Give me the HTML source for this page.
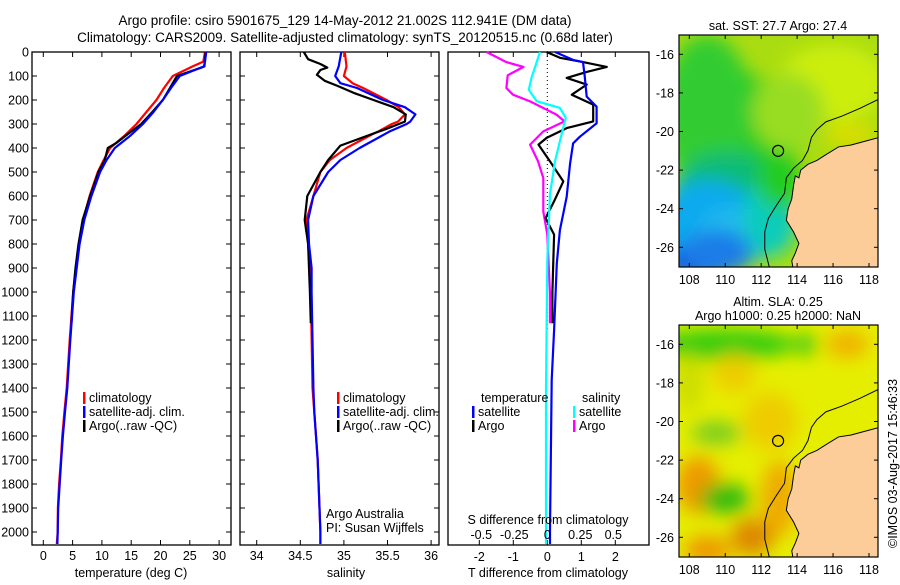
<!DOCTYPE html>
<html><head><meta charset="utf-8">
<style>
html,body{margin:0;padding:0;background:#fff;}
body{width:900px;height:580px;overflow:hidden;font-family:"Liberation Sans",sans-serif;}
svg text{font-family:"Liberation Sans",sans-serif;font-size:12.5px;fill:#000;}
</style></head>
<body>
<svg id="fig" width="900" height="580" xmlns="http://www.w3.org/2000/svg">
<defs>
<filter id="blur6" x="-50%" y="-50%" width="200%" height="200%"><feGaussianBlur stdDeviation="9"/></filter>
<clipPath id="clipTop"><rect x="679" y="35" width="199" height="232"/></clipPath>
<clipPath id="clipBot"><rect x="679" y="325" width="199" height="232"/></clipPath>
</defs>
<text x="345" y="25" text-anchor="middle" style="font-size:13.5px">Argo profile: csiro 5901675_129 14-May-2012 21.002S 112.941E (DM data)</text>
<text x="345" y="42" text-anchor="middle" style="font-size:13.5px">Climatology: CARS2009. Satellite-adjusted climatology: synTS_20120515.nc (0.68d later)</text>
<g id="p1"></g>
<g id="p2"></g>
<g id="p3"></g>
<g id="m1"></g>
<g id="m2"></g>
<text transform="translate(897,548) rotate(-90)" style="font-size:12.5px">©IMOS 03-Aug-2017 15:46:33</text>
</svg>
<script>
// ---- data ----
const depthTclim=[0,40,60,100,150,200,250,300,350,400,450,500,600,700,800,900,1000,1200,1400,1500,1600,1700,1800,1900,2000,2050];
const tempClim=[27.6,27.3,25.5,22.1,20.6,19.3,17.6,15.9,13.8,11.4,10.3,9.3,7.9,6.8,6.1,5.6,5.1,4.5,4.0,3.6,3.25,3.0,2.7,2.5,2.45,2.3];
const tempSat=[27.8,27.6,27.4,23.3,21.8,20.4,18.8,17.0,14.8,12.2,10.8,9.7,8.2,7.0,6.2,5.7,5.2,4.6,4.1,3.7,3.35,3.05,2.8,2.55,2.45,2.4];
const depthArgo=[0,30,60,65,100,150,200,250,300,350,380,400,450,500,600,700,800,900,1000,1130];
const tempArgo=[27.7,27.6,27.5,27.0,22.8,21.6,20.4,18.6,16.7,14.0,12.4,11.0,10.5,9.4,8.0,6.7,6.0,5.5,5.1,4.8];

const depthS=[0,60,100,130,150,200,230,260,290,300,330,340,400,450,500,600,700,800,900,1000,1400,1500,1600,1700,1800,1900,2000,2050];
const salClim=[35.01,35.03,35.0,35.1,35.22,35.49,35.63,35.70,35.62,35.55,35.4,35.34,35.03,34.84,34.73,34.65,34.57,34.59,34.61,34.62,34.64,34.66,34.68,34.70,34.71,34.72,34.73,34.73];
const salSat=[34.97,34.94,34.9,34.96,35.15,35.45,35.70,35.82,35.76,35.72,35.53,35.48,35.18,34.96,34.82,34.65,34.59,34.60,34.63,34.63,34.65,34.66,34.68,34.70,34.71,34.72,34.73,34.73];
const depthSA=[0,30,50,65,75,95,120,140,170,200,230,260,290,320,350,390,450,500,600,700,750,800,1000,1130];
const salArgo=[34.54,34.59,34.73,34.81,34.73,34.69,34.78,34.92,35.11,35.34,35.57,35.71,35.70,35.49,35.26,34.96,34.82,34.73,34.58,34.55,34.57,34.59,34.61,34.62];

const depthDT=[0,33,42,100,186,228,297,353,381,464,603,742,881,1158,1367,1990,2050];
const dTsat=[0.23,0.76,1.05,1.1,1.16,1.45,1.45,0.96,0.76,0.67,0.57,0.37,0.28,0.2,0.13,0.08,0.08];
const depthDA=[0,24,42,62,83,108,136,178,219,289,317,358,386,456,539,622,692,761,1000,1130];
const dTargo=[-0.02,0.37,1.05,1.75,1.16,0.57,1.16,0.72,1.35,1.35,0.57,-0.02,-0.26,0.08,0.47,0.2,-0.05,0.2,0.15,0.15];
const depthDS=[0,108,157,205,233,275,317,456,594,872,1400,2050];
const dSsat=[-0.055,-0.12,-0.14,-0.08,0.096,0.14,0.12,0.058,0.02,0,-0.01,-0.01];
const depthDSA=[0,42,62,97,150,178,206,261,289,331,386,456,525,664,761,1000,1130];
const dSargo=[-0.46,-0.31,-0.18,-0.30,-0.31,-0.26,-0.13,0.07,0.13,-0.03,-0.13,-0.07,-0.03,-0.03,0,0.02,0.02];

const depthTicks=[0,100,200,300,400,500,600,700,800,900,1000,1100,1200,1300,1400,1500,1600,1700,1800,1900,2000];
const tempTicks=[0,5,10,15,20,25,30];
const salTicks=[34,34.5,35,35.5,36];
const dTTicks=[-2,-1,0,1,2];
const dSTicks=[-0.5,-0.25,0,0.25,0.5];
const dSTickLabels=["-0.5","-0.25","0","0.25","0.5"];
const lonTicks=[108,110,112,114,116,118];
const latTicks=[-16,-18,-20,-22,-24,-26];
const argoLon=112.941, argoLat=-21.002;

// ---- helpers ----
const NS="http://www.w3.org/2000/svg";
function mk(parent,tag,attrs,text){const e=document.createElementNS(NS,tag);for(const k in attrs)e.setAttribute(k,attrs[k]);if(text!==undefined)e.textContent=text;parent.appendChild(e);return e;}
const Y=d=>52+0.24*d;
const xT=t=>43.3+5.86*t;
const xS=s=>256.7+87.2*(s-34);
const xDT=t=>547.3+34*t;
const xDS=s=>547.3+132*s;
const TOP=52,BOT=545;

function frame(g,x0,x1){
  const r=mk(g,'rect',{x:x0,y:TOP,width:x1-x0,height:BOT-TOP,fill:'none',stroke:'#000','stroke-width':1.3});
  
}
function line(g,xs,ds,fx,color,name){
  const pts=xs.map((v,i)=>fx(v).toFixed(1)+','+Y(ds[i]).toFixed(1)).join(' ');
  const p=mk(g,'polyline',{points:pts,fill:'none',stroke:color,'stroke-width':2.2,'stroke-linejoin':'round'});
  
  
}
function xticks(g,ticks,fx,labels,ylab){
  ticks.forEach((t,i)=>{
    const x=fx(t);
    mk(g,'line',{x1:x,x2:x,y1:TOP,y2:TOP+5,stroke:'#000'});
    mk(g,'line',{x1:x,x2:x,y1:BOT,y2:BOT-5,stroke:'#000'});
    if(labels){const tx=mk(g,'text',{x:x,y:ylab,'text-anchor':'middle'},labels[i]);
      }
  });
}
function yticks(g,x0,x1,labels){
  depthTicks.forEach(d=>{
    const y=Y(d);
    mk(g,'line',{x1:x0,x2:x0+5,y1:y,y2:y,stroke:'#000'});
    mk(g,'line',{x1:x1,x2:x1-5,y1:y,y2:y,stroke:'#000'});
    if(labels){const tx=mk(g,'text',{x:x0-3,y:y+4.5,'text-anchor':'end'},String(d));
      }
  });
}
function legend(g,x,y,color,label){
  const b=mk(g,'rect',{x:x,y:y-10,width:2.5,height:12,fill:color});
  
  const t=mk(g,'text',{x:x+6,y:y},label);
  
}

// ---- panel 1 ----
const p1=document.getElementById('p1');
frame(p1,32,231);
xticks(p1,tempTicks,xT,tempTicks.map(String),560);
yticks(p1,32,231,true);
line(p1,tempClim,depthTclim,xT,'#ff0000','temp-climatology-line');
line(p1,tempArgo,depthArgo,xT,'#000000','temp-argo-line');
line(p1,tempSat,depthTclim,xT,'#0000ff','temp-satellite-line');
legend(p1,83,402,'#ff0000','climatology');
legend(p1,83,416,'#0000ff','satellite-adj. clim.');
legend(p1,83,430,'#000000','Argo(..raw -QC)');
{const t=mk(p1,'text',{x:131,y:577,'text-anchor':'middle'},'temperature (deg C)');}

// ---- panel 2 ----
const p2=document.getElementById('p2');
frame(p2,240,439);
xticks(p2,salTicks,xS,salTicks.map(String),560);
yticks(p2,240,439,false);
line(p2,salClim,depthS,xS,'#ff0000','sal-climatology-line');
line(p2,salArgo,depthSA,xS,'#000000','sal-argo-line');
line(p2,salSat,depthS,xS,'#0000ff','sal-satellite-line');
legend(p2,337,402,'#ff0000','climatology');
legend(p2,337,416,'#0000ff','satellite-adj. clim.');
legend(p2,337,430,'#000000','Argo(..raw -QC)');
{const t=mk(p2,'text',{x:326,y:518},'Argo Australia');
 const t2=mk(p2,'text',{x:326,y:532},'PI: Susan Wijffels');
 const t3=mk(p2,'text',{x:346,y:577,'text-anchor':'middle'},'salinity');}

// ---- panel 3 ----
const p3=document.getElementById('p3');
frame(p3,448,649);
xticks(p3,dTTicks,xDT,dTTicks.map(String),561);
mk(p3,'line',{x1:xDT(0),x2:xDT(0),y1:TOP,y2:330,stroke:'#000','stroke-dasharray':'1,3'});
line(p3,dSargo,depthDSA,xDS,'#ff00ff','sal-argo-diff-line');
line(p3,dTargo,depthDA,xDT,'#000000','temp-argo-diff-line');
line(p3,dTsat,depthDT,xDT,'#0000ff','temp-satellite-diff-line');
line(p3,dSsat,depthDS,xDS,'#00ffff','sal-satellite-diff-line');
{const t=mk(p3,'text',{x:481,y:402},'temperature');
 const t2=mk(p3,'text',{x:582,y:402},'salinity');}
legend(p3,472,416,'#0000ff','satellite');
legend(p3,472,430,'#000000','Argo');
legend(p3,573,416,'#00ffff','satellite');
legend(p3,573,430,'#ff00ff','Argo');
{const t=mk(p3,'text',{x:548,y:524,'text-anchor':'middle'},'S difference from climatology');}
dSTicks.forEach((s,i)=>{const t=mk(p3,'text',{x:xDS(s),y:539,'text-anchor':'middle'},dSTickLabels[i]);
  });
{const t=mk(p3,'text',{x:548,y:577,'text-anchor':'middle'},'T difference from climatology');}

// ---- maps ----
function mapAx(yAtM16){
  const lon=l=>689.3+(l-108)*17.97;
  const lat=a=>yAtM16+(-16-a)*19.3;
  return {lon,lat};
}
const land=[[118.6,-20.3],[117.8,-20.5],[117,-20.7],[116.3,-20.8],[115.6,-21.2],[115.1,-21.5],[114.6,-21.7],[114.2,-22],[114.1,-22.4],[113.9,-22.3],[113.8,-22.8],[113.7,-23.5],[113.5,-24],[113.4,-24.6],[113.8,-25.2],[114.1,-25.8],[113.9,-26.3],[113.7,-26.7],[113.8,-27.2],[118.6,-27.2]];
const isobath=[[118.6,-18.3],[117.5,-18.8],[116.5,-19.2],[115.6,-19.5],[115.1,-19.9],[114.8,-20.3],[114.6,-21.0],[114.3,-21.5],[113.8,-21.9],[113.4,-22.4],[113.3,-23.2],[112.8,-23.9],[112.4,-24.5],[112.2,-25.2],[112.2,-26.1],[112.5,-27.2]];
function drawMap(g,top,bot,clip,blobs,base,titleLines){
  const A=mapAx(top+19.3);
  const cg=mk(g,'g',{'clip-path':'url(#'+clip+')'});
  mk(cg,'rect',{x:679,y:top,width:199,height:bot-top,fill:base});
  const bg=mk(cg,'g',{filter:'url(#blur6)'});
  blobs.forEach(b=>{const e=mk(bg,'ellipse',{cx:A.lon(b[0]),cy:A.lat(b[1]),rx:b[2]*18,ry:b[3]*19.3,fill:b[4]});
    });
  const lp=mk(cg,'polygon',{points:land.map(p=>A.lon(p[0])+','+A.lat(p[1])).join(' '),fill:'#fccc99',stroke:'#000','stroke-width':1});
  
  const ib=mk(cg,'polyline',{points:isobath.map(p=>A.lon(p[0])+','+A.lat(p[1])).join(' '),fill:'none',stroke:'#000','stroke-width':1});
  
  const c=mk(g,'circle',{cx:A.lon(argoLon),cy:A.lat(argoLat),r:5.5,fill:'none',stroke:'#000','stroke-width':1.2});
  
  const fr=mk(g,'rect',{x:679,y:top,width:199,height:bot-top,fill:'none',stroke:'#000','stroke-width':1.2});
  
  lonTicks.forEach(l=>{const x=A.lon(l);mk(g,'line',{x1:x,x2:x,y1:top,y2:top+4,stroke:'#000'});mk(g,'line',{x1:x,x2:x,y1:bot,y2:bot-4,stroke:'#000'});
    const t=mk(g,'text',{x:x,y:bot+17,'text-anchor':'middle'},String(l));});
  latTicks.forEach(a=>{const y=A.lat(a);mk(g,'line',{x1:679,x2:683,y1:y,y2:y,stroke:'#000'});mk(g,'line',{x1:878,x2:874,y1:y,y2:y,stroke:'#000'});
    const t=mk(g,'text',{x:674,y:y+4.5,'text-anchor':'end'},String(a));});
  titleLines.forEach((s,i)=>{const t=mk(g,'text',{x:778,y:top-5-(titleLines.length-1-i)*14,'text-anchor':'middle'},s);
    });
}
drawMap(document.getElementById('m1'),35,267,'clipTop',[
  [111,-21,3,4,'#22cc22'],[109,-19,2.5,4,'#33cc33'],[110,-23.5,3,2.5,'#11bb77'],
  [109,-25,3,2.5,'#11aaee'],[110.5,-25.5,2,1.5,'#22bbee'],[108.5,-26.8,2,1,'#1155dd'],
  [109.5,-26.3,2,1.2,'#1e7ce8'],[112.5,-24.5,1.5,2,'#11ccbb'],[116,-17.5,3,2,'#ccee11'],
  [113.5,-19,2,2,'#99dd22'],[117,-20.2,1.5,0.6,'#dddd00'],[113,-22.5,1.2,1.5,'#22cc22']
],'#aadd11',['sat. SST: 27.7 Argo: 27.4']);
drawMap(document.getElementById('m2'),325,557,'clipBot',[
  [108.5,-23.3,1.2,1.5,'#ee9900'],[111.5,-26,1.2,1,'#dd8800'],[109,-26.7,1.3,0.8,'#ee9900'],
  [110,-24,1.4,0.8,'#33bb11'],[109.5,-20.6,1.4,0.6,'#77cc22'],[110,-16,4,0.8,'#33cc11'],
  [114.5,-16,0.6,0.6,'#44cc11'],[112.5,-20,1.5,1.5,'#eecc00'],[110.5,-17.5,1.2,1,'#eecc00'],
  [116.8,-16,1.2,0.7,'#f0b000'],[108,-18,0.8,1.5,'#ccdd00'],[113,-24,1,2,'#eeaa00']
],'#e6ee00',['Altim. SLA: 0.25','Argo h1000: 0.25 h2000: NaN']);
</script>
</body></html>
